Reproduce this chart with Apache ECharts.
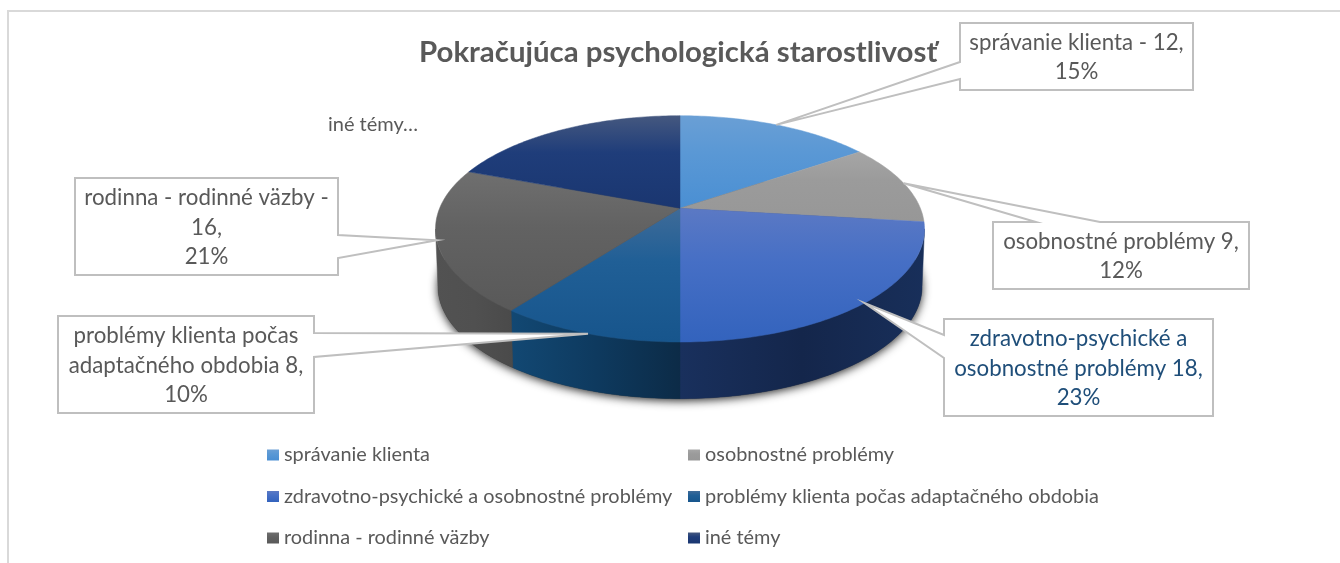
<!DOCTYPE html>
<html>
<head>
<meta charset="utf-8">
<title>Pokračujúca psychologická starostlivosť</title>
<style>
  html, body { margin: 0; padding: 0; background: #fff; }
  #chart { width: 1340px; height: 563px; }
</style>
<script src="https://cdn.jsdelivr.net/npm/echarts@6/dist/echarts.min.js"></script>
</head>
<body>
<div id="chart"></div>
<script>
// data
var categories = [
  'správanie klienta',
  'osobnostné problémy',
  'zdravotno-psychické a osobnostné problémy',
  'problémy klienta počas adaptačného obdobia',
  'rodinna - rodinné väzby',
  'iné témy'
];
var values = [12, 9, 18, 8, 16, 15];
var labelTexts = [
  'správanie klienta - 12,\n15%',
  'osobnostné problémy 9,\n12%',
  'zdravotno-psychické a\nosobnostné problémy 18,\n23%',
  'problémy klienta počas\nadaptačného obdobia 8,\n10%',
  'rodinna - rodinné väzby -\n16,\n21%',
  'iné témy…'
];

// colours, top to bottom on the pie face, left to right on the wall
var faceColors = [
  ['#6a9fd5', '#5a98d5', '#4a8fd3'],
  ['#a6a6a6', '#9b9b9b', '#979797'],
  ['#5b79c4', '#466fc5', '#3363bd'],
  ['#3f6b98', '#205f96', '#17558c'],
  ['#6f6f6f', '#626262', '#595959'],
  ['#45587f', '#1f3d7a', '#1a3670']
];
var wallColors = [
  ['#2c6ba5', '#2c6ba5', '#2c6ba5'],
  ['#6a6a6a', '#6a6a6a', '#6a6a6a'],
  ['#19305d', '#14264b', '#182f5a'],
  ['#124873', '#0e3a5f', '#0c2b47'],
  ['#525252', '#505050', '#4a4a4a'],
  ['#10224a', '#10224a', '#10224a']
];
var labelColors = ['#595959', '#595959', '#1f4e79', '#595959', '#595959', '#595959'];

// callout boxes: l, t, r, b + where the wedge leaves the box
var callouts = [
  { l: 960, t: 23, r: 1193, b: 90, side: 'left', a: 62, c: 79 },
  { l: 993, t: 222, r: 1249, b: 289, side: 'top', a: 1036, c: 1100 },
  { l: 944, t: 319, r: 1213, b: 416, side: 'left', a: 335, c: 358 },
  { l: 58, t: 316, r: 314, b: 413, side: 'right', a: 333, c: 357 },
  { l: 75, t: 178, r: 338, b: 275, side: 'right', a: 235, c: 258 },
  null
];

// pie seen in perspective
var CX = 680, CY = 208.3, AX = 240.4, BY = 109.4, K = 0.1817;
var DEPTH = 58, BOTTOM_SCALE = 0.99;
var WALL_FROM = 100.5, WALL_TO = 259.5;   // where the rim turns away

var total = values.reduce(function (s, v) { return s + v; }, 0);
var angles = [];
var run = 0;
values.forEach(function (v) {
  angles.push([run / total * 360, (run + v) / total * 360]);
  run += v;
});

function project(deg, bottom) {
  var t = deg * Math.PI / 180;
  var u = Math.sin(t), v = -Math.cos(t);
  var d = 1 - K * v;
  var s = bottom ? BOTTOM_SCALE : 1;
  return [CX + s * AX * u / d, CY + (bottom ? DEPTH : 0) + s * BY * v / d];
}

function arc(from, to, bottom) {
  var pts = [];
  var n = Math.max(2, Math.ceil(Math.abs(to - from)));
  for (var i = 0; i <= n; i++) pts.push(project(from + (to - from) * i / n, bottom));
  return pts;
}

function vGrad(c) {
  return new echarts.graphic.LinearGradient(0, 0, 0, 1, [
    { offset: 0, color: c[0] }, { offset: 0.4, color: c[1] }, { offset: 1, color: c[2] }
  ]);
}
function hGrad(c) {
  return new echarts.graphic.LinearGradient(0, 0, 1, 0, [
    { offset: 0, color: c[0] }, { offset: 0.5, color: c[1] }, { offset: 1, color: c[2] }
  ]);
}

function renderShadow() {
  return {
    type: 'polygon',
    shape: { points: arc(0, 360, true) },
    style: { fill: '#333', shadowBlur: 10, shadowOffsetY: 2, shadowColor: 'rgba(0,0,0,0.85)' }
  };
}

function renderWall(params) {
  var i = params.dataIndex;
  var a = Math.max(angles[i][0], WALL_FROM), b = Math.min(angles[i][1], WALL_TO);
  if (b <= a) return null;
  var pts = arc(a, b, false).concat(arc(b, a, true));
  var fill = hGrad(wallColors[i]);
  return { type: 'polygon', shape: { points: pts }, style: { fill: fill, stroke: fill, lineWidth: 0.5 } };
}

function faceRenderer(i) {
  return function () {
    var pts = [[CX, CY]].concat(arc(angles[i][0], angles[i][1], false));
    var fill = vGrad(faceColors[i]);
    return { type: 'polygon', shape: { points: pts }, style: { fill: fill, stroke: fill, lineWidth: 0.5 } };
  };
}

function renderLabel(params) {
  var i = params.dataIndex;
  var c = callouts[i];
  var children = [];
  var textX = 373, textY = 125;
  if (c) {
    var mid = (angles[i][0] + angles[i][1]) / 2;
    var tip = project(mid, false);
    var pts;
    if (c.side === 'left') {
      pts = [[c.l, c.t], [c.r, c.t], [c.r, c.b], [c.l, c.b], [c.l, c.c], tip, [c.l, c.a]];
    } else if (c.side === 'right') {
      pts = [[c.l, c.t], [c.r, c.t], [c.r, c.a], tip, [c.r, c.c], [c.r, c.b], [c.l, c.b]];
    } else {
      pts = [[c.l, c.t], [c.a, c.t], tip, [c.c, c.t], [c.r, c.t], [c.r, c.b], [c.l, c.b]];
    }
    children.push({
      type: 'polygon',
      shape: { points: pts },
      style: { fill: '#fff', stroke: '#bfbfbf', lineWidth: 2 }
    });
    textX = (c.l + c.r) / 2;
    textY = (c.t + c.b) / 2 + 1;
  }
  children.push({
    type: 'text',
    style: {
      x: textX, y: textY,
      text: labelTexts[i],
      align: 'center', verticalAlign: 'middle',
      font: (c ? '22.3px' : '20px') + ' Lato',
      lineHeight: 29.5,
      fill: labelColors[i]
    }
  });
  return { type: 'group', children: children };
}

var series = [
  { type: 'custom', name: 'tien', coordinateSystem: 'none', silent: true, data: [[0, 360]], renderItem: renderShadow },
  { type: 'custom', name: 'steny', coordinateSystem: 'none', silent: true, data: angles, renderItem: renderWall }
];
categories.forEach(function (name, i) {
  series.push({
    type: 'custom',
    name: name,
    coordinateSystem: 'none',
    silent: true,
    itemStyle: { color: vGrad(faceColors[i]) },
    data: [values[i]],
    renderItem: faceRenderer(i)
  });
});
series.push({ type: 'custom', name: 'popisky', coordinateSystem: 'none', silent: true, data: labelTexts, renderItem: renderLabel });

function legendFor(names, left) {
  return {
    orient: 'vertical',
    left: left,
    top: 445,
    data: names,
    icon: 'rect',
    itemWidth: 12,
    itemHeight: 11,
    itemGap: 21.5,
    selectedMode: false,
    padding: 0,
    textStyle: { fontFamily: 'Lato', fontSize: 19.9, color: '#595959' }
  };
}

var myChart = echarts.init(document.getElementById('chart'));
myChart.setOption({
  animation: false,
  backgroundColor: '#fff',
  title: {
    text: 'Pokračujúca psychologická starostlivosť',
    left: 419,
    top: 38,
    padding: 0,
    textStyle: { fontFamily: 'Lato', fontWeight: 'bold', fontSize: 29.4, color: '#595959' }
  },
  legend: [
    legendFor([categories[0], categories[2], categories[4]], 267),
    legendFor([categories[1], categories[3], categories[5]], 688)
  ],
  graphic: [{
    type: 'rect',
    silent: true,
    z: -1,
    shape: { x: 8, y: 11, width: 1400, height: 620 },
    style: { fill: 'transparent', stroke: '#d9d9d9', lineWidth: 2 }
  }],
  series: series
});
</script>
</body>
</html>
